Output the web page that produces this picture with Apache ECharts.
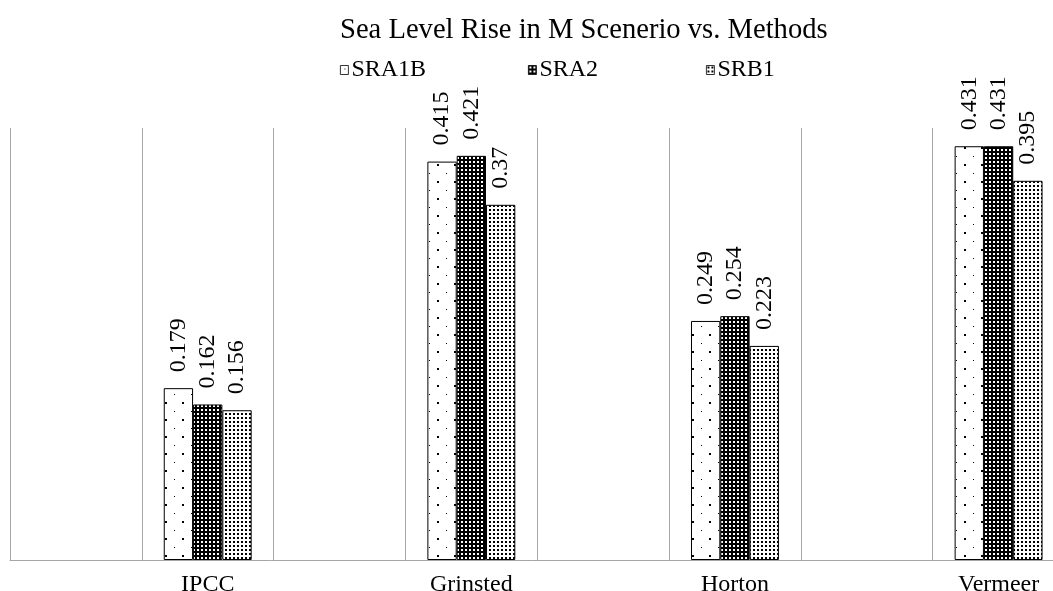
<!DOCTYPE html>
<html>
<head>
<meta charset="utf-8">
<script src="https://cdn.jsdelivr.net/npm/echarts@6/dist/echarts.min.js"></script>
<style>
  html, body { margin: 0; padding: 0; background: #fff; }
  #chart { width: 1053px; height: 591px; }
</style>
</head>
<body>
<div id="chart"></div>
<script>
// Sea level rise (m) per method and emission scenario
const methods = ['IPCC', 'Grinsted', 'Horton', 'Vermeer'];
const seriesNames = ['SRA1B', 'SRA2', 'SRB1'];
const sra1b = [0.179, 0.415, 0.249, 0.431];
const sra2  = [0.162, 0.421, 0.254, 0.431];
const srb1  = [0.156, 0.37, 0.223, 0.395];

const titleText = 'Sea Level Rise in M Scenerio vs. Methods';
const SERIF = '"Liberation Serif", "Times New Roman", serif';

// Each method sits in every second slot, with an empty slot in front of it
const slots = [];
methods.forEach((m, i) => { slots.push(' '.repeat(i + 1)); slots.push(m); });
function spread(values) {
  const out = [];
  values.forEach(v => { out.push(null); out.push(v); });
  return out;
}

// Monochrome fill textures
function tile(w, h, bg, fg, dots) {
  const c = document.createElement('canvas');
  c.width = w; c.height = h;
  const g = c.getContext('2d');
  g.fillStyle = bg; g.fillRect(0, 0, w, h);
  g.fillStyle = fg;
  dots.forEach(d => g.fillRect(d[0], d[1], d[2], d[3]));
  return { image: c, repeat: 'repeat' };
}
const fills = [
  tile(17, 17, '#ffffff', '#000000', [[4, 3, 1, 1], [12, 11, 2, 2]]),  // sparse dots
  tile(4, 4, '#000000', '#ffffff', [[1, 1, 2, 2]]),                     // dark grid
  tile(4, 4, '#ffffff', '#000000', [[1, 1, 2, 2]])                      // dense dots
];
const seriesData = [sra1b, sra2, srb1];

const chart = echarts.init(document.getElementById('chart'), null, { renderer: 'canvas' });

const legendLeft = [340, 528, 706];

chart.setOption({
  animation: false,
  backgroundColor: '#ffffff',
  title: {
    text: titleText,
    left: 340,
    top: 16,
    padding: 0,
    textStyle: { fontFamily: SERIF, fontSize: 28.6, fontWeight: 'normal', color: '#000' }
  },
  legend: seriesNames.map((name, i) => ({
    data: [name],
    left: legendLeft[i],
    top: 58,
    padding: 0,
    itemWidth: 8,
    itemHeight: 9,
    itemGap: 0,
    icon: 'rect',
    itemStyle: { borderWidth: 0.8 },
    textStyle: { fontFamily: SERIF, fontSize: 24, color: '#000', padding: [0, 0, 0, -2] }
  })),
  // the plot area runs a little past the right edge of the canvas
  grid: {
    left: 10, width: 1054.5, top: 128, height: 432,
    containLabel: false,
    outerBoundsMode: 'none'
  },
  xAxis: {
    type: 'category',
    data: slots,
    axisLine: { show: true, lineStyle: { color: '#a6a6a6', width: 1 } },
    axisTick: { show: false },
    splitLine: { show: true, lineStyle: { color: '#a6a6a6', width: 1 } },
    axisLabel: { fontFamily: SERIF, fontSize: 24, color: '#000', margin: 13, interval: 0 }
  },
  yAxis: {
    type: 'value',
    min: 0,
    max: 0.45,
    show: false,
    splitLine: { show: false }
  },
  series: seriesNames.map((name, i) => ({
    name: name,
    type: 'bar',
    data: spread(seriesData[i]),
    barGap: 0,
    barCategoryGap: '33.3%',
    itemStyle: { color: fills[i], borderColor: '#000', borderWidth: 1 },
    label: {
      show: true,
      position: 'top',
      rotate: 90,
      distance: 16,
      align: 'left',
      verticalAlign: 'middle',
      fontFamily: SERIF,
      fontSize: 24,
      color: '#000'
    }
  }))
});
</script>
</body>
</html>
